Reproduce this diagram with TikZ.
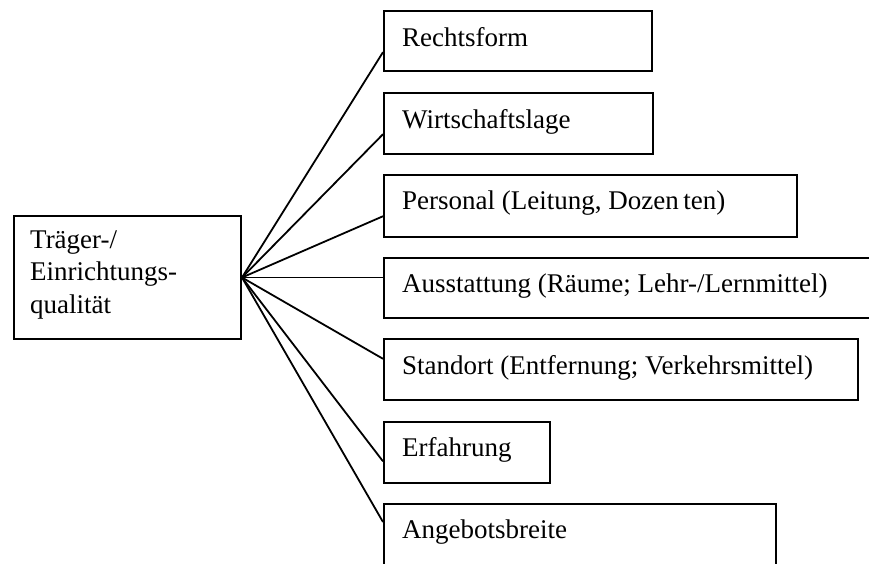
\documentclass[tikz,border=0pt]{standalone}
\usepackage{fontspec}
\setmainfont{Liberation Serif}
\usetikzlibrary{calc}
\begin{document}
\begin{tikzpicture}[x=1pt,y=-1pt,
  box/.style={draw=black, line width=2pt, rectangle, inner sep=0pt, anchor=north west},
  lbl/.style={inner sep=0pt, anchor=base west, font=\fontsize{27}{32.5}\selectfont, align=left},
  link/.style={draw=black, line width=1.8pt}]
\useasboundingbox (0,0) rectangle (869,563);
\clip (0,0) rectangle (869,563);
% central box
\node[box, minimum width=227pt, minimum height=123pt] (q) at (13,215) {};
\node[lbl] (qt) at (30,313) {Träger-/\\Einrichtungs-\\qualität};
% criteria boxes
\node[box, minimum width=268pt, minimum height=60pt] (r1) at (383,10) {};
\node[box, minimum width=269pt, minimum height=61pt] (r2) at (383,92) {};
\node[box, minimum width=413pt, minimum height=62pt] (r3) at (383,174) {};
\node[box, minimum width=500pt, minimum height=60pt] (r4) at (383,257) {};
\node[box, minimum width=474pt, minimum height=61pt] (r5) at (383,338) {};
\node[box, minimum width=166pt, minimum height=61pt] (r6) at (383,421) {};
\node[box, minimum width=392pt, minimum height=80pt] (r7) at (383,503) {};
% labels
\node[lbl] (t1) at (402,46) {Rechtsform};
\node[lbl] (t2) at (402,128) {Wirtschaftslage};
\node[lbl] (t3) at (402,209) {Personal (Leitung, Dozen\,ten)};
\node[lbl] (t4) at (402,292) {Ausstattung (Räume; Lehr-/Lernmittel)};
\node[lbl] (t5) at (402,374) {Standort (Entfernung; Verkehrsmittel)};
\node[lbl] (t6) at (402,456) {Erfahrung};
\node[lbl] (t7) at (402,538) {Angebotsbreite};
% connectors fanning out from the central box
\draw[link] (q.east) -- ($(r1.north west)!0.68!(r1.south west)$);
\draw[link] (q.east) -- ($(r2.north west)!0.67!(r2.south west)$);
\draw[link] (q.east) -- ($(r3.north west)!0.66!(r3.south west)$);
\draw[link] (q.east) -- (q.east -| r4.west);
\draw[link] (q.east) -- ($(r5.north west)!0.33!(r5.south west)$);
\draw[link] (q.east) -- ($(r6.north west)!0.64!(r6.south west)$);
\draw[link] (q.east) -- ($(r7.north west)+(0,19)$);
\end{tikzpicture}
\end{document}
